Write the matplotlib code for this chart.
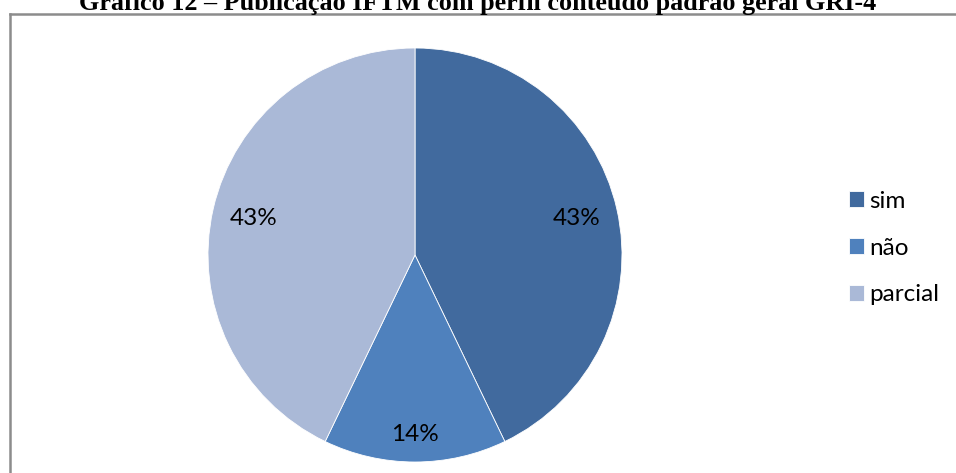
import matplotlib
matplotlib.use("Agg")
import numpy as np
import matplotlib.pyplot as plt
from matplotlib.lines import Line2D

labels = ["sim", "não", "parcial"]
counts = [3, 1, 3]
colors = ["#416A9E", "#4F81BD", "#AAB9D7"]
label_radius = [0.80, 0.865, 0.80]
title = "Gráfico 12 – Publicação IFTM com perfil conteúdo padrão geral GRI-4"

W, H = 956, 473
fig = plt.figure(figsize=(W / 100, H / 100), dpi=100)

# chart frame: top and left edges only reach into the image
x0, y0 = 9.5 / W, 1 - 14 / H
fig.add_artist(Line2D([x0, 1.0], [y0, y0], transform=fig.transFigure,
                      color="#8C8C8C", linewidth=1.8))
fig.add_artist(Line2D([x0, x0], [0.0, y0], transform=fig.transFigure,
                      color="#8C8C8C", linewidth=1.8))

fig.text(478 / W, 1 - 10 / H, title, ha="center", va="baseline",
         family="Liberation Serif", weight="bold", fontsize=18.8)

cx, cy, r = 415, 255, 207
ax = fig.add_axes([(cx - r) / W, (H - cy - r) / H, 2 * r / W, 2 * r / H])
wedges, _, autotexts = ax.pie(counts, colors=colors, startangle=90,
                              counterclock=False, autopct="%1.0f%%",
                              wedgeprops=dict(edgecolor="white", linewidth=0.6),
                              textprops=dict(family="Lato", fontsize=17.5,
                                             color="black"))
for w, t, rad in zip(wedges, autotexts, label_radius):
    mid = np.deg2rad((w.theta1 + w.theta2) / 2)
    t.set_position((rad * np.cos(mid), rad * np.sin(mid)))
ax.set_xlim(-1, 1)
ax.set_ylim(-1, 1)
ax.set_aspect("equal")

fig.legend(wedges, labels, loc="center left",
           bbox_to_anchor=(849 / W, 1 - 248 / H), frameon=False,
           borderaxespad=0, borderpad=0,
           prop=dict(family="Lato", size=17.5), handlelength=0.62,
           handleheight=0.62, handletextpad=0.22, labelspacing=1.06)

fig.savefig("out.png", dpi=100, facecolor="white")
